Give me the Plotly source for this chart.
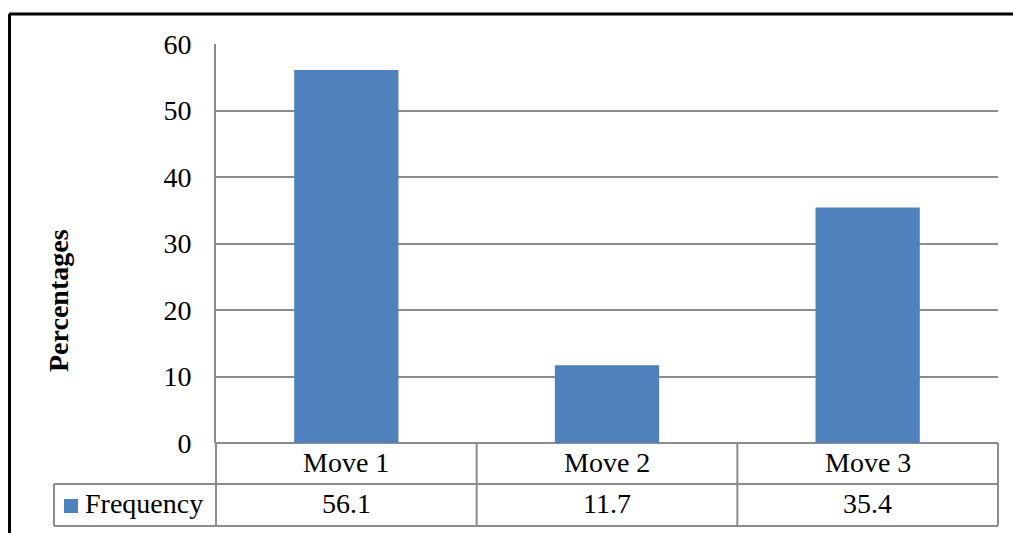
import plotly.graph_objects as go

# Chart data
categories = ["Move 1", "Move 2", "Move 3"]
series_name = "Frequency"
frequency = [56.1, 11.7, 35.4]
y_ticks = [0, 10, 20, 30, 40, 50, 60]

W, H = 1013, 533
BAR_COLOR = "#4f81bd"
GRID = "#8c8c8c"
FONT = "Liberation Serif"


def px_x(p):
    return p / W


def px_y(p):
    return 1 - p / H


# plot area in pixels
left, right, top, bottom = 216, 998, 44, 443
row1_bottom, row2_bottom = 484, 526
legend_left = 54

fig = go.Figure()
fig.add_trace(go.Bar(
    x=categories, y=frequency, name=series_name,
    marker=dict(color=BAR_COLOR, line=dict(width=0)),
    width=0.4, showlegend=False,
))

shapes = []
# outer black frame (top and left edges)
shapes.append(dict(type="line", xref="paper", yref="paper",
                   x0=px_x(9), x1=1.0, y0=px_y(14), y1=px_y(14),
                   line=dict(color="black", width=3)))
shapes.append(dict(type="line", xref="paper", yref="paper",
                   x0=px_x(9.5), x1=px_x(9.5), y0=px_y(14), y1=0,
                   line=dict(color="black", width=3)))

# data table grid
tl = dict(color=GRID, width=2)
shapes.append(dict(type="line", xref="paper", yref="paper",
                   x0=px_x(legend_left), x1=px_x(right),
                   y0=px_y(row1_bottom), y1=px_y(row1_bottom), line=tl))
shapes.append(dict(type="line", xref="paper", yref="paper",
                   x0=px_x(legend_left), x1=px_x(right),
                   y0=px_y(row2_bottom), y1=px_y(row2_bottom), line=tl))
shapes.append(dict(type="line", xref="paper", yref="paper",
                   x0=px_x(legend_left), x1=px_x(legend_left),
                   y0=px_y(row1_bottom), y1=px_y(row2_bottom), line=tl))
shapes.append(dict(type="line", xref="paper", yref="paper",
                   x0=px_x(left), x1=px_x(left),
                   y0=px_y(bottom), y1=px_y(row2_bottom), line=tl))
n = len(categories)
for i in range(1, n + 1):
    xb = left + (right - left) * i / n
    shapes.append(dict(type="line", xref="paper", yref="paper",
                       x0=px_x(xb), x1=px_x(xb),
                       y0=px_y(bottom), y1=px_y(row2_bottom), line=tl))

# legend key square
shapes.append(dict(type="rect", xref="paper", yref="paper",
                   x0=px_x(64), x1=px_x(78), y0=px_y(513), y1=px_y(499),
                   fillcolor=BAR_COLOR, line=dict(width=0)))

annotations = []
txt_font = dict(family=FONT, size=28, color="black")
for cat, val in zip(categories, frequency):
    annotations.append(dict(x=cat, xref="x", y=px_y(462), yref="paper",
                            text=cat, showarrow=False, font=txt_font,
                            xanchor="center", yanchor="middle"))
    annotations.append(dict(x=cat, xref="x", y=px_y(503), yref="paper",
                            text=f"{val}", showarrow=False, font=txt_font,
                            xanchor="center", yanchor="middle"))
annotations.append(dict(x=px_x(83), xref="paper", y=px_y(503), yref="paper",
                        text=series_name, showarrow=False, font=txt_font,
                        xanchor="left", yanchor="middle"))
annotations.append(dict(x=px_x(58), xref="paper", y=px_y(301), yref="paper",
                        text="<b>Percentages</b>", showarrow=False,
                        textangle=-90, font=txt_font,
                        xanchor="center", yanchor="middle"))

fig.update_layout(
    width=W, height=H,
    margin=dict(l=0, r=0, t=0, b=0, pad=0, autoexpand=False),
    paper_bgcolor="white", plot_bgcolor="white",
    bargap=0.6,
    xaxis=dict(domain=[px_x(left), px_x(right)], showticklabels=False,
               showgrid=False, zeroline=False, showline=False, ticks="",
               automargin=False),
    yaxis=dict(domain=[px_y(bottom), px_y(top)], range=[0, 60],
               tickvals=y_ticks, ticktext=[str(t) for t in y_ticks],
               showgrid=True, gridcolor=GRID, gridwidth=2,
               zeroline=True, zerolinecolor=GRID, zerolinewidth=2,
               showline=True, linecolor=GRID, linewidth=2,
               ticks="", ticklabelstandoff=17, automargin=False,
               tickfont=dict(family=FONT, size=28, color="black")),
    shapes=shapes,
    annotations=annotations,
)

fig.write_html("out.html")
